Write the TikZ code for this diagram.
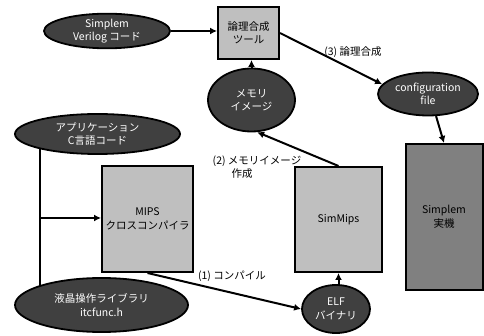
\documentclass[tikz,border=0pt]{standalone}
\usepackage{fontspec}
\setmainfont{Noto Sans CJK JP}
\usetikzlibrary{shapes.geometric,arrows.meta,backgrounds}
\begin{document}
\begin{tikzpicture}[
	x=1pt, y=-1pt,
	src/.style={ellipse, draw, line width=1.8pt, fill=black!75, text=white, inner sep=0pt, align=center, font=\fontsize{10.5}{13.5}\selectfont},
	tool/.style={rectangle, draw, line width=2pt, fill=black!25, inner sep=0pt, align=center, font=\fontsize{10.5}{13.5}\selectfont},
	board/.style={tool, fill=black!50},
	steplabel/.style={align=center, font=\fontsize{10.5}{13.5}\selectfont},
	]
	
	\useasboundingbox (0,0) rectangle (484,336);
	
	%-----------------------
	% Column positions
	%-----------------------
	\def\xbus{40}
	\def\xsim{338.5}
	
	%-----------------------
	% Sources (ellipses)
	%-----------------------
	\node[src, minimum width=126pt, minimum height=34pt] (verilog) at (107,31) {Simplem\\Verilog コード};
	\node[src, minimum width=165pt, minimum height=40pt] (app) at (97.5,134) {アプリケーション\\C言語コード};
	\node[src, minimum width=173pt, minimum height=54pt] (lcd) at (101.5,305) {液晶操作ライブラリ\\itcfunc.h};
	\node[src, minimum width=87pt, minimum height=63pt] (memimg) at (251.5,100) {メモリ\\イメージ};
	\node[src, minimum width=100pt, minimum height=43pt] (config) at (428,94) {configuration\\file};
	\node[src, minimum width=68pt, minimum height=48pt] (elf) at (336,309) {ELF\\バイナリ};
	
	%-----------------------
	% Tools (boxes)
	%-----------------------
	\node[tool, minimum width=61pt, minimum height=52pt] (synth) at (248.5,33) {論理合成\\ツール};
	\node[tool, minimum width=91pt, minimum height=106pt] (mips) at (147.5,219) {MIPS\\クロスコンパイラ};
	\node[tool, minimum width=87pt, minimum height=105pt] (simmips) at (\xsim,219.5) {SimMips};
	\node[board, minimum width=77pt, minimum height=146pt] (simplem) at (444,217) {Simplem\\実機};
	
	%-----------------------
	% Step labels
	%-----------------------
	\node[steplabel] (lbl1) at (232,276) {(1) コンパイル};
	\node[steplabel, align=left] (lbl2) at (257,167) {(2) メモリイメージ\\\hspace{1.8em}作成};
	\node[steplabel] (lbl3) at (353,52) {(3) 論理合成};
	
	%-----------------------
	% Connections
	%-----------------------
	\tikzset{connect/.style={-{Latex[length=7pt,width=7pt]}, line width=2pt}}
	
	% sources -> cross compiler
	\coordinate (bus) at (\xbus,218);
	\begin{scope}[on background layer]
		\draw[line width=2pt] (app.center -| bus) -- (lcd.center -| bus);
	\end{scope}
	\draw[connect] (bus) -- (bus -| mips.west);
	
	% (1) compile
	\draw[connect] (mips.south) -- (elf.west);
	\draw[connect] (elf.north -| simmips.south) -- (simmips.south);
	
	% (2) memory image
	\draw[connect] (simmips.north) -- (memimg.-80);
	
	% (3) synthesis
	\draw[connect] (verilog.east) -- (verilog.east -| synth.west);
	\draw[connect] (memimg.north) -- (memimg.north |- synth.south);
	\draw[connect] (synth.east) -- (config.168);
	\draw[connect] (config.290) -- (simplem.north);
	
\end{tikzpicture}
\end{document}
